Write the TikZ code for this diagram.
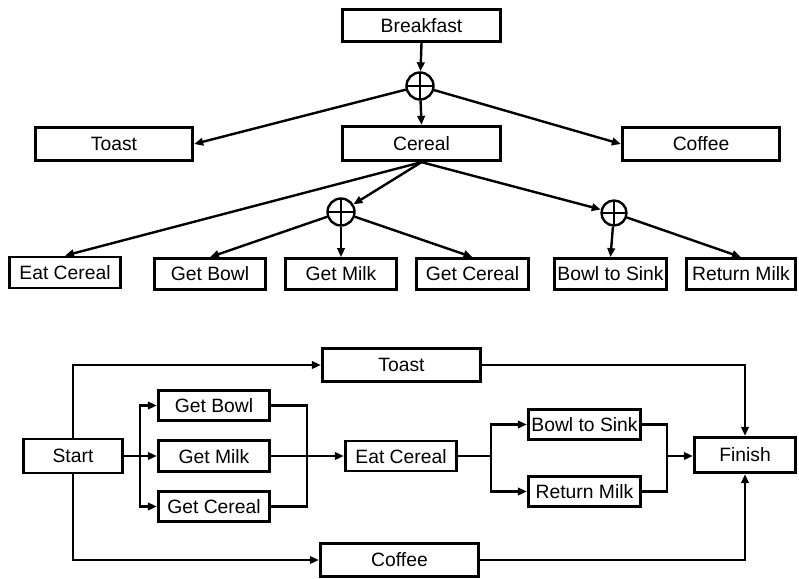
\documentclass[tikz,border=0pt]{standalone}
\usepackage{fontspec}
\setmainfont{Liberation Sans}
\usetikzlibrary{arrows.meta}
\begin{document}
\begin{tikzpicture}[x=1pt,y=-1pt,
  box/.style={draw, line width=2.8pt, inner sep=0pt, minimum height=#1,
    font=\fontsize{19.3}{22}\selectfont, text depth=0pt},
  box/.default=32pt,
  xor/.style={draw, circle, line width=2.4pt, minimum size=#1, inner sep=0pt,
    path picture={\draw[line width=2.4pt]
      (path picture bounding box.north) -- (path picture bounding box.south)
      (path picture bounding box.west) -- (path picture bounding box.east);}},
  xor/.default=27pt,
  ln/.style={line width=2.4pt},
  arr/.style={ln, -{Triangle[length=9pt,width=7.5pt]}},
]
\useasboundingbox (0,0) rectangle (799,578);

% ---------- decomposition tree ----------
\node[box=32.5pt, minimum width=158.5pt] (bk) at (421.5,25.5) {Breakfast};
\node[xor] (x1) at (420,86) {};
\node[box=33.5pt, minimum width=157.5pt] (toast) at (114,144) {Toast};
\node[box=34.5pt, minimum width=158.5pt] (cereal) at (421.5,143.5) {Cereal};
\node[box=33.5pt, minimum width=157.5pt] (coffee) at (701,144) {Coffee};

\node[xor] (x2) at (341,212) {};
\node[xor=25pt] (x3) at (614,213) {};

\node[box=31pt, minimum width=111.5pt] (eat) at (65,272.5) {Eat Cereal};
\node[box=31pt, minimum width=111.5pt] (gb) at (210,274) {Get Bowl};
\node[box=31pt, minimum width=111.5pt] (gm) at (341,274) {Get Milk};
\node[box=31pt, minimum width=112.5pt] (gc) at (472.5,274) {Get Cereal};
\node[box=31pt, minimum width=112.5pt] (bs) at (610.5,274) {Bowl to Sink};
\node[box=31pt, minimum width=109.5pt] (rm) at (741,274) {Return Milk};

\draw[arr] (bk.south) -- (x1);
\draw[arr] (x1) -- (cereal.north);
\draw[arr] (x1) -- (toast.east);
\draw[arr] (x1) -- (coffee.west);

\draw[arr] (cereal.south) -- (eat.north);
\draw[arr] (cereal.south) -- (x2);
\draw[arr] (cereal.south) -- (x3);

\draw[arr] (x2) -- (gb.north);
\draw[arr] (x2) -- (gm.north);
\draw[arr] (x2) -- (gc.north);
\draw[arr] (x3) -- (bs.north);
\draw[arr] (x3) -- (rm.north);

% ---------- precedence network ----------
\node[box=34pt, minimum width=99.5pt] (start) at (73,456) {Start};
\node[box=33.5pt, minimum width=158.5pt] (toastB) at (401.5,365) {Toast};
\node[box=33.5pt, minimum width=158.5pt] (coffeeB) at (399.5,560) {Coffee};
\node[box=30.5pt, minimum width=111.5pt] (gbB) at (214,405.5) {Get Bowl};
\node[box=30.5pt, minimum width=111.5pt] (gmB) at (214,456) {Get Milk};
\node[box=30.5pt, minimum width=111.5pt] (gcB) at (214,506.5) {Get Cereal};
\node[box=30pt, minimum width=111.5pt] (eatB) at (401,456) {Eat Cereal};
\node[box=30.5pt, minimum width=112.5pt] (bsB) at (584.5,424.5) {Bowl to Sink};
\node[box=30.5pt, minimum width=112.5pt] (rmB) at (584.5,491.5) {Return Milk};
\node[box=35.5pt, minimum width=101.5pt] (fin) at (745,455) {Finish};

\coordinate (f1) at (140,456);
\coordinate (j1) at (307,456);
\coordinate (f2) at (491,456);
\coordinate (j2) at (667,456);

\draw[arr] (start.north) |- (toastB.west);
\draw[arr] (start.south) |- (coffeeB.west);
\draw[arr] (toastB.east) -| (fin.north);
\draw[arr] (coffeeB.east) -| (fin.south);

\draw[ln] (start.east) -- (f1);
\draw[arr] (f1) |- (gbB.west);
\draw[arr] (f1) -- (gmB.west);
\draw[arr] (f1) |- (gcB.west);

\draw[ln] (gbB.east) -| (j1) |- (gcB.east);
\draw[arr] (gmB.east) -- (eatB.west);

\draw[ln] (eatB.east) -- (f2);
\draw[arr] (f2) |- (bsB.west);
\draw[arr] (f2) |- (rmB.west);

\draw[ln] (bsB.east) -| (j2) |- (rmB.east);
\draw[arr] (j2) -- (j2 -| fin.west);
\end{tikzpicture}
\end{document}
